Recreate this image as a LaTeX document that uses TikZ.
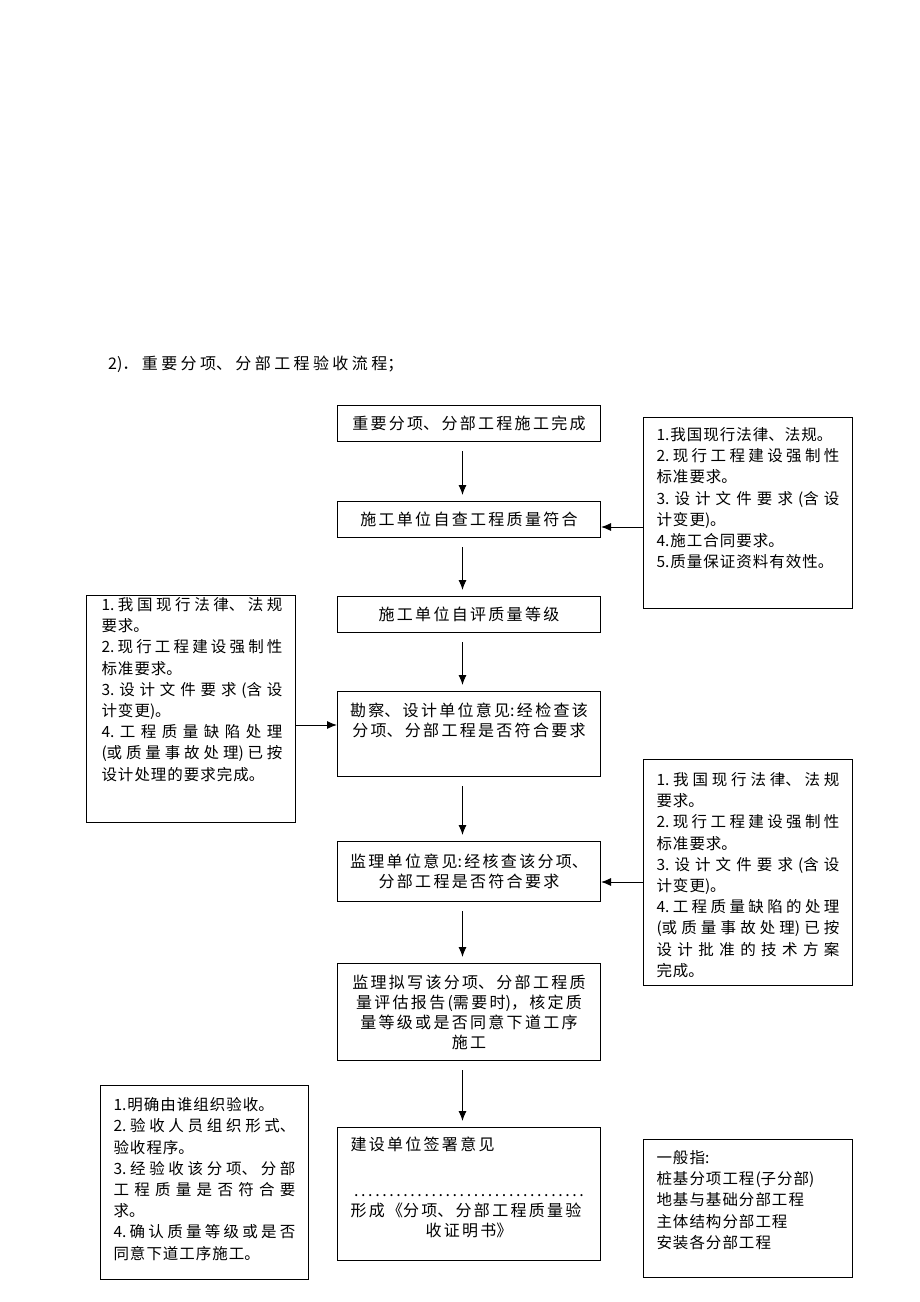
\documentclass[tikz,border=0pt]{standalone}
\usepackage{fontspec}
\setmainfont{Noto Sans CJK SC}
\usetikzlibrary{arrows.meta}
\XeTeXlinebreaklocale "zh"
\XeTeXlinebreakskip=0pt

% text of a box: width, height, inner position, content
\newcommand{\boxtext}[4]{\parbox[c][#2][#3]{#1}{#4}}
\newcommand{\flowfont}{\fontsize{16}{20}\selectfont\XeTeXlinebreakskip=2.3pt}
\newcommand{\notefont}{\fontsize{15.5}{21.2}\selectfont
  \XeTeXlinebreakskip=1pt plus 1fil\parfillskip=0pt plus 1fill}

\tikzset{
  flowbox/.style={draw, line width=1pt, inner sep=0pt, anchor=north west},
  flowarrow/.style={-{Latex[length=10pt,width=8pt]}, line width=1pt},
  vstep/.style={flowarrow, shorten <=9pt, shorten >=6pt},
}

\begin{document}
\begin{tikzpicture}[x=1pt,y=-1pt]
\useasboundingbox (0,0) rectangle (920,1302);

\node[anchor=west, inner sep=0pt] (title) at (108,364)
  {\parbox{400pt}{\fontsize{16}{20}\selectfont\XeTeXlinebreakskip=3.4pt
   2)．重要分项、分部工程验收流程；}};

% main column
\node[flowbox] (done) at (337,405)
  {\boxtext{263pt}{36pt}{c}{\centering\flowfont 重要分项、分部工程施工完成}};
\node[flowbox] (selfchk) at (337,501)
  {\boxtext{263pt}{36pt}{c}{\centering\flowfont 施工单位自查工程质量符合}};
\node[flowbox] (grade) at (337,596)
  {\boxtext{263pt}{36pt}{c}{\centering\flowfont 施工单位自评质量等级}};
\node[flowbox] (design) at (337,691)
  {\boxtext{263pt}{85pt}{t}{\centering\flowfont\vspace{11pt}%
   勘察、设计单位意见:经检查该\\分项、分部工程是否符合要求}};
\node[flowbox] (superv) at (337,841)
  {\boxtext{263pt}{60pt}{c}{\centering\flowfont
   监理单位意见:经核查该分项、\\分部工程是否符合要求}};
\node[flowbox] (report) at (337,963)
  {\boxtext{263pt}{97pt}{c}{\centering\flowfont
   监理拟写该分项、分部工程质\\量评估报告(需要时)，核定质\\量等级或是否同意下道工序\\施工}};
\node[flowbox] (owner) at (337,1127)
  {\boxtext{263pt}{133pt}{t}{\flowfont\leftskip=13pt\vspace{9pt}%
   建设单位签署意见\par\vspace{26pt}%
   \noindent\hbox to 237pt{\dotfill}\par
   形成《分项、分部工程质量验\par
   \centering 收证明书》}};

% side notes
\node[flowbox] (law1) at (643,417)
  {\boxtext{209pt}{191pt}{t}{\notefont\leftskip=13pt\rightskip=13pt\vspace{10pt}%
   1.我国现行法律、法规。\par
   2.现行工程建设强制性\linebreak 标准要求。\par
   3.设计文件要求(含设\linebreak 计变更)。\par
   4.施工合同要求。\par
   5.质量保证资料有效性。}};
\node[flowbox] (law2) at (86,595)
  {\boxtext{209pt}{227pt}{t}{\notefont\leftskip=15pt\rightskip=13pt\vspace{2pt}%
   1.我国现行法律、法规\linebreak 要求。\par
   2.现行工程建设强制性\linebreak 标准要求。\par
   3.设计文件要求(含设\linebreak 计变更)。\par
   4.工程质量缺陷处理\linebreak (或质量事故处理)已按\linebreak 设计处理的要求完成。}};
\node[flowbox] (law3) at (643,759)
  {\boxtext{209pt}{226pt}{t}{\notefont\leftskip=13pt\rightskip=13pt\vspace{13pt}%
   1.我国现行法律、法规\linebreak 要求。\par
   2.现行工程建设强制性\linebreak 标准要求。\par
   3.设计文件要求(含设\linebreak 计变更)。\par
   4.工程质量缺陷的处理\linebreak (或质量事故处理)已按\linebreak 设计批准的技术方案\linebreak 完成。}};
\node[flowbox] (accept) at (100,1085)
  {\boxtext{208pt}{194pt}{t}{\notefont\leftskip=13pt\rightskip=13pt\vspace{12pt}%
   1.明确由谁组织验收。\par
   2.验收人员组织形式、\linebreak 验收程序。\par
   3.经验收该分项、分部\linebreak 工程质量是否符合要\linebreak 求。\par
   4.确认质量等级或是否\linebreak 同意下道工序施工。}};
\node[flowbox] (scope) at (643,1139)
  {\boxtext{209pt}{138pt}{t}{\notefont\leftskip=13pt\vspace{11pt}%
   一般指:\par 桩基分项工程(子分部)\par 地基与基础分部工程\par
   主体结构分部工程\par 安装各分部工程}};

% arrows
\draw[vstep] ([xshift=-6.5pt]done.south) -- ([xshift=-6.5pt]selfchk.north);
\draw[vstep] ([xshift=-6.5pt]selfchk.south) -- ([xshift=-6.5pt]grade.north);
\draw[vstep] ([xshift=-6.5pt]grade.south) -- ([xshift=-6.5pt]design.north);
\draw[vstep] ([xshift=-6.5pt]design.south) -- ([xshift=-6.5pt]superv.north);
\draw[vstep] ([xshift=-6.5pt]superv.south) -- ([xshift=-6.5pt]report.north);
\draw[vstep] ([xshift=-6.5pt]report.south) -- ([xshift=-6.5pt]owner.north);

\coordinate (y1) at (0,527);
\coordinate (y2) at (0,725);
\coordinate (y3) at (0,882);
\draw[flowarrow] (law1.west |- y1) -- (selfchk.east |- y1);
\draw[flowarrow] (law2.east |- y2) -- (design.west |- y2);
\draw[flowarrow] (law3.west |- y3) -- (superv.east |- y3);
\end{tikzpicture}
\end{document}
